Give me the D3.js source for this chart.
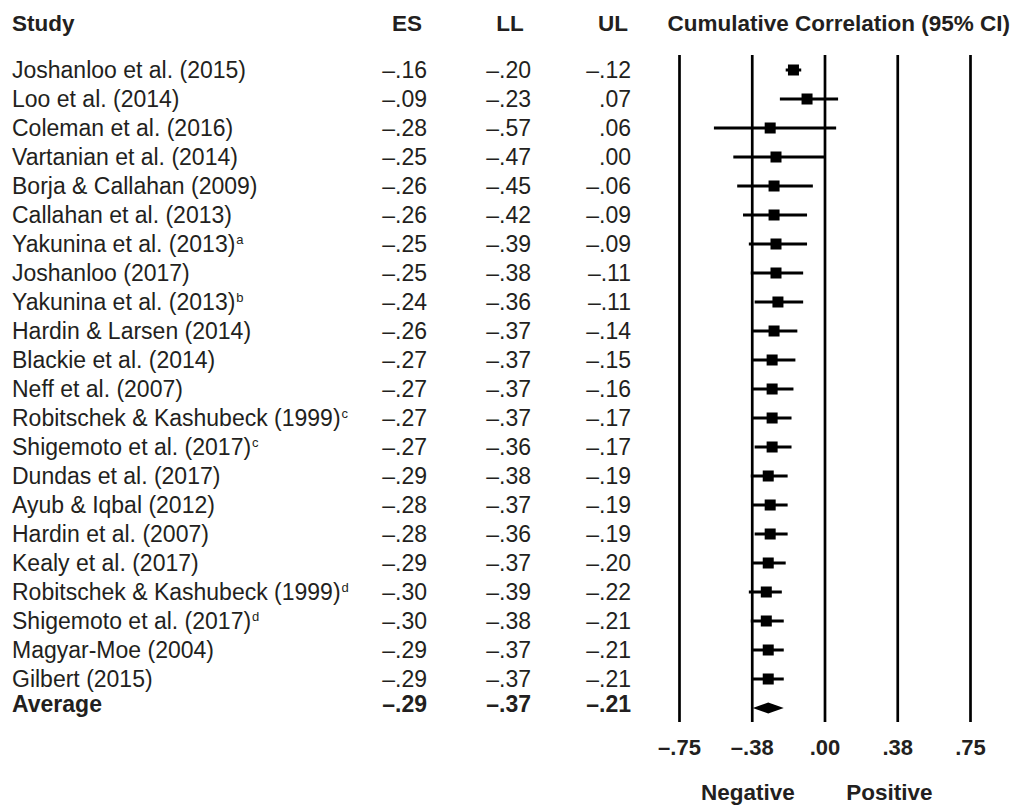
<!DOCTYPE html>
<html>
<head>
<meta charset="utf-8">
<script src="https://cdn.jsdelivr.net/npm/d3@7/dist/d3.min.js"></script>
<style>
  html, body { margin: 0; padding: 0; background: #fff; }
  svg { display: block; font-family: "Liberation Sans", Arial, Helvetica, sans-serif; }
</style>
</head>
<body>
<svg id="chart" width="1013" height="805"></svg>
<script>
// ---- data ----
const studies = [
  "Joshanloo et al. (2015)", "Loo et al. (2014)", "Coleman et al. (2016)",
  "Vartanian et al. (2014)", "Borja & Callahan (2009)", "Callahan et al. (2013)",
  "Yakunina et al. (2013)", "Joshanloo (2017)", "Yakunina et al. (2013)",
  "Hardin & Larsen (2014)", "Blackie et al. (2014)", "Neff et al. (2007)",
  "Robitschek & Kashubeck (1999)", "Shigemoto et al. (2017)", "Dundas et al. (2017)",
  "Ayub & Iqbal (2012)", "Hardin et al. (2007)", "Kealy et al. (2017)",
  "Robitschek & Kashubeck (1999)", "Shigemoto et al. (2017)", "Magyar-Moe (2004)",
  "Gilbert (2015)"
];
const superscripts = ["", "", "", "", "", "", "a", "", "b", "", "", "", "c", "c", "", "", "", "", "d", "d", "", ""];
const es = [-0.16, -0.09, -0.28, -0.25, -0.26, -0.26, -0.25, -0.25, -0.24, -0.26, -0.27, -0.27, -0.27, -0.27, -0.29, -0.28, -0.28, -0.29, -0.30, -0.30, -0.29, -0.29];
const ll = [-0.20, -0.23, -0.57, -0.47, -0.45, -0.42, -0.39, -0.38, -0.36, -0.37, -0.37, -0.37, -0.37, -0.36, -0.38, -0.37, -0.36, -0.37, -0.39, -0.38, -0.37, -0.37];
const ul = [-0.12, 0.07, 0.06, 0.00, -0.06, -0.09, -0.09, -0.11, -0.11, -0.14, -0.15, -0.16, -0.17, -0.17, -0.19, -0.19, -0.19, -0.20, -0.22, -0.21, -0.21, -0.21];
const average = { label: "Average", es: -0.29, ll: -0.37, ul: -0.21 };
const tickValues = [-0.75, -0.375, 0, 0.375, 0.75];
const tickLabels = ["–.75", "–.38", ".00", ".38", ".75"];
const headers = { study: "Study", es: "ES", ll: "LL", ul: "UL", plot: "Cumulative Correlation (95% CI)" };
const directionLabels = [{ text: "Negative", value: -0.395 }, { text: "Positive", value: 0.335 }];

// ---- layout ----
const textColor = "#231f20";
const fontSize = 23;
const svg = d3.select("#chart");

const x = d3.scaleLinear().domain([-0.75, 0.75]).range([679, 970]);
const rowIdx = d3.range(studies.length + 1);
const y = d3.scaleLinear().domain([0, studies.length]).range([70, 70 + 29 * studies.length]);

const fmt = v => {
  const s = d3.format(".2f")(Math.abs(v)).replace(/^0/, "");
  return (v < 0 ? "–" : "") + s;
};

const colES = 427, colLL = 531, colUL = 631;

// headers
const hdr = svg.append("g").attr("font-weight", "bold").attr("fill", textColor).attr("font-size", 22.5);
hdr.append("text").attr("x", 12).attr("y", 31).text(headers.study);
hdr.append("text").attr("x", 407).attr("y", 31).attr("text-anchor", "middle").text(headers.es);
hdr.append("text").attr("x", 510).attr("y", 31).attr("text-anchor", "middle").text(headers.ll);
hdr.append("text").attr("x", 613).attr("y", 31).attr("text-anchor", "middle").text(headers.ul);
hdr.append("text").attr("x", 1010).attr("y", 31).attr("text-anchor", "end").text(headers.plot);

// study rows
const rows = studies.map((s, i) => ({ s, sup: superscripts[i], es: es[i], ll: ll[i], ul: ul[i], i }));
const tg = svg.append("g").attr("fill", textColor).attr("font-size", fontSize);
const st = tg.selectAll("text.study").data(rows).join("text")
  .attr("class", "study").attr("x", 12).attr("y", d => y(d.i) + 8)
  .text(d => d.s);
st.filter(d => d.sup).append("tspan").attr("font-size", 13).attr("dy", -8).attr("dx", 1).text(d => d.sup);

[["es", colES], ["ll", colLL], ["ul", colUL]].forEach(([k, cx]) => {
  tg.selectAll("text.v" + k).data(rows).join("text")
    .attr("class", "v" + k).attr("x", cx).attr("y", d => y(d.i) + 8)
    .attr("text-anchor", "end").text(d => fmt(d[k]));
});

// average row
const avgY = y(studies.length);
const ag = svg.append("g").attr("fill", textColor).attr("font-size", fontSize).attr("font-weight", "bold");
ag.append("text").attr("x", 12).attr("y", avgY + 4).text(average.label);
ag.append("text").attr("x", colES).attr("y", avgY + 4).attr("text-anchor", "end").text(fmt(average.es));
ag.append("text").attr("x", colLL).attr("y", avgY + 4).attr("text-anchor", "end").text(fmt(average.ll));
ag.append("text").attr("x", colUL).attr("y", avgY + 4).attr("text-anchor", "end").text(fmt(average.ul));

// vertical grid lines via axis
const axis = d3.axisBottom(x).tickValues(tickValues)
  .tickSize(-(722 - 55)).tickFormat((d, i) => tickLabels[i]).tickPadding(10);
const ax = svg.append("g").attr("transform", "translate(0,722)").call(axis);
ax.select(".domain").remove();
ax.selectAll(".tick line").attr("stroke", "#000").attr("stroke-width", 2.7);
ax.selectAll(".tick text").attr("fill", textColor).attr("font-size", 22)
  .attr("font-weight", "bold").attr("font-family", "Liberation Sans, Arial, sans-serif")
  .attr("dy", null).attr("y", 33);

// CI whiskers and squares
const pg = svg.append("g");
pg.selectAll("line.ci").data(rows).join("line")
  .attr("class", "ci")
  .attr("x1", d => x(d.ll)).attr("x2", d => x(d.ul))
  .attr("y1", d => y(d.i)).attr("y2", d => y(d.i))
  .attr("stroke", "#000").attr("stroke-width", 3);
const sq = 11;
pg.selectAll("rect.pt").data(rows).join("rect")
  .attr("class", "pt")
  .attr("x", d => x(d.es) - sq / 2).attr("y", d => y(d.i) - sq / 2)
  .attr("width", sq).attr("height", sq).attr("fill", "#000");

// diamond
const dh = 5.5;
pg.append("path")
  .attr("d", `M${x(average.ll)},${avgY} L${x(average.es)},${avgY - dh} L${x(average.ul)},${avgY} L${x(average.es)},${avgY + dh} Z`)
  .attr("fill", "#000");

// direction labels
svg.append("g").attr("fill", textColor).attr("font-size", 22.5).attr("font-weight", "bold")
  .selectAll("text").data(directionLabels).join("text")
  .attr("x", d => x(d.value)).attr("y", 800).attr("text-anchor", "middle").text(d => d.text);
</script>
</body>
</html>
